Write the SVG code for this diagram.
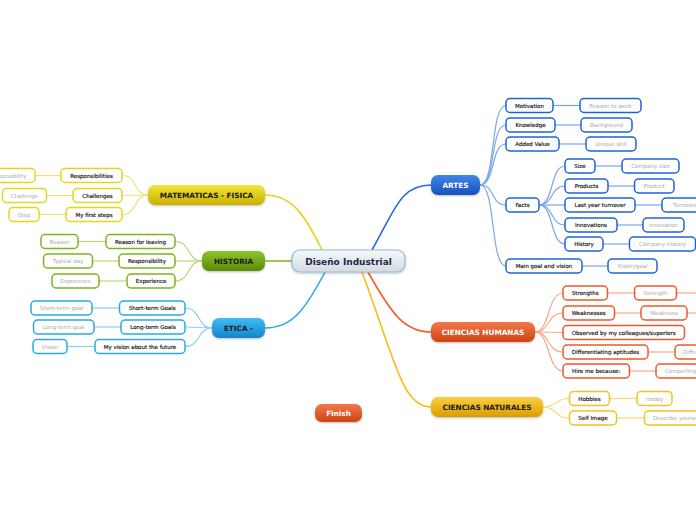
<svg xmlns="http://www.w3.org/2000/svg" width="696" height="520" viewBox="0 0 696 520">
<defs>
<linearGradient id="gc" x1="0" y1="0" x2="0" y2="1"><stop offset="0" stop-color="#f6f8fa"/><stop offset="1" stop-color="#d6dade"/></linearGradient>
<linearGradient id="gb" x1="0" y1="0" x2="0" y2="1"><stop offset="0" stop-color="#4088e8"/><stop offset="1" stop-color="#1850bc"/></linearGradient>
<linearGradient id="gy" x1="0" y1="0" x2="0" y2="1"><stop offset="0" stop-color="#f4e43a"/><stop offset="1" stop-color="#c8b000"/></linearGradient>
<linearGradient id="gg" x1="0" y1="0" x2="0" y2="1"><stop offset="0" stop-color="#90c42c"/><stop offset="1" stop-color="#588c08"/></linearGradient>
<linearGradient id="gk" x1="0" y1="0" x2="0" y2="1"><stop offset="0" stop-color="#40bcf2"/><stop offset="1" stop-color="#1484cc"/></linearGradient>
<linearGradient id="go" x1="0" y1="0" x2="0" y2="1"><stop offset="0" stop-color="#f47848"/><stop offset="1" stop-color="#cc4414"/></linearGradient>
<linearGradient id="ga" x1="0" y1="0" x2="0" y2="1"><stop offset="0" stop-color="#fad040"/><stop offset="1" stop-color="#dc9c00"/></linearGradient>
<filter id="sh" x="-10%" y="-20%" width="120%" height="160%"><feDropShadow dx="0" dy="1" stdDeviation="0.8" flood-color="#000" flood-opacity="0.25"/></filter>
</defs>
<style>
text{font-family:"DejaVu Sans","Liberation Sans",sans-serif;text-anchor:middle}
.ct{font-size:9px;font-weight:bold;fill:#1a2846}
.bt{font-size:7.3px;font-weight:bold}
.w{fill:#ffffff}.d{fill:#1a1a1a}
.c{font-size:5.5px;fill:#222222;stroke:#222222;stroke-width:0.18}
.l{font-size:5.5px;fill:#aaaaaa}
.n{fill:#ffffff;stroke-width:1.5}
.sb{stroke:#1c64d8}.sy{stroke:#e6d41e}.sg{stroke:#7cb41c}.sk{stroke:#28a8e8}.so{stroke:#f0582a}.sa{stroke:#f8c020}
path{fill:none}
.lb{stroke:#7aa6ea}.ly{stroke:#f0e27a}.lg{stroke:#b8d878}.lk{stroke:#88d0f2}.lo{stroke:#f8a888}.la{stroke:#fcd878}
.m{stroke-width:1.6}.s{stroke-width:1.2}
</style>
<g id="connectors">
<path class="m" stroke="#2a6ad8" d="M372 250 C395 210 400 185 431 185"/>
<path class="m" stroke="#e6d21a" d="M322 250 C305 215 292 195 265 195"/>
<path class="m" stroke="#86b82a" d="M292 261 L265 261"/>
<path class="m" stroke="#2aaae8" d="M325 272 C305 310 292 328 265 328"/>
<path class="m" stroke="#f06030" d="M368 272 C392 315 405 332 431 332"/>
<path class="m" stroke="#f8bc18" d="M362 272 C395 360 402 407 431 407"/>
<g class="lb s">
<path d="M480 185 C496 185 490 105.5 506 105.5"/>
<path d="M480 185 C496 185 490 125 506 125"/>
<path d="M480 185 C496 185 490 144 506 144"/>
<path d="M480 185 C496 185 490 205 506 205"/>
<path d="M480 185 C496 185 490 266 506 266"/>
<path d="M539 205 C554 205 550 166 565 166"/>
<path d="M539 205 C554 205 550 186 565 186"/>
<path d="M539 205 L565 205"/>
<path d="M539 205 C554 205 550 225 565 225"/>
<path d="M539 205 C554 205 550 244 565 244"/>
<path d="M553 105.5 L580 105.5"/>
<path d="M555 125 L581 125"/>
<path d="M559 144 L586 144"/>
<path d="M582 266 L608 266"/>
<path d="M595 166 L622 166"/>
<path d="M608 186 L634.5 186"/>
<path d="M635 205 L662 205"/>
<path d="M617 225 L643 225"/>
<path d="M603 244 L629.5 244"/>
</g>
<g class="ly s">
<path d="M148 195 C133 195 138 175.5 122 175.5"/>
<path d="M148 195 L122 195.5"/>
<path d="M148 195 C133 195 138 214.5 122 214.5"/>
<path d="M61 175.5 L35 175.5"/>
<path d="M73 195.5 L46.5 195.5"/>
<path d="M66 214.5 L39 214.5"/>
</g>
<g class="lg s">
<path d="M202 261 C187 261 191 241.5 175 241.5"/>
<path d="M202 261 L175 261"/>
<path d="M202 261 C187 261 191 281 175 281"/>
<path d="M106 241.5 L78 241.5"/>
<path d="M119 261 L92.5 261"/>
<path d="M127 281 L99 281"/>
</g>
<g class="lk s">
<path d="M212 328 C197 328 201 308 185 308"/>
<path d="M212 328 L185 327"/>
<path d="M212 328 C197 328 201 346.5 185 346.5"/>
<path d="M119.5 308 L92 308"/>
<path d="M121 327 L94 327"/>
<path d="M95 346.5 L67 346.5"/>
</g>
<g class="lo s">
<path d="M535 332 C550 332 547 293 563 293"/>
<path d="M535 332 C550 332 547 313 563 313"/>
<path d="M535 332 L563 332.5"/>
<path d="M535 332 C550 332 547 352 563 352"/>
<path d="M535 332 C550 332 547 371 563 371"/>
<path d="M607.5 293 L634.5 293"/>
<path d="M676.5 293 L696 293"/>
<path d="M614.5 313 L641 313"/>
<path d="M687 313 L696 313"/>
<path d="M648 352 L675 352"/>
<path d="M629.5 371 L656 371"/>
</g>
<g class="la s">
<path d="M543 407 C557 407 554 398.5 569.5 398.5"/>
<path d="M543 407 C557 407 554 418 569.5 418"/>
<path d="M609.5 398.5 L637 398.5"/>
<path d="M616.5 418 L644.5 418"/>
</g>
</g>
<g id="center"><rect x="292" y="250" width="113" height="22" rx="8" fill="url(#gc)" stroke="#8cbce4" stroke-width="1.2" filter="url(#sh)"/><text class="ct" x="348.5" y="264.5">Diseño Industrial</text></g>
<g id="artes"><rect x="431" y="175" width="49" height="20" rx="7" fill="url(#gb)" filter="url(#sh)"/><text class="bt w" x="455.5" y="188">ARTES</text></g>
<g id="matematicas"><rect x="148" y="185" width="117" height="20" rx="7" fill="url(#gy)" filter="url(#sh)"/><text class="bt d" x="206.5" y="198">MATEMATICAS - FISICA</text></g>
<g id="historia"><rect x="202" y="251" width="63" height="20" rx="7" fill="url(#gg)" filter="url(#sh)"/><text class="bt d" x="233.5" y="264">HISTORIA</text></g>
<g id="etica"><rect x="212" y="318" width="53" height="20" rx="7" fill="url(#gk)" filter="url(#sh)"/><text class="bt d" x="238.5" y="331">ETICA -</text></g>
<g id="humanas"><rect x="431" y="322" width="104" height="20" rx="7" fill="url(#go)" filter="url(#sh)"/><text class="bt w" x="483" y="335">CIENCIAS HUMANAS</text></g>
<g id="naturales"><rect x="431" y="397" width="112" height="20" rx="7" fill="url(#ga)" filter="url(#sh)"/><text class="bt d" x="487" y="410">CIENCIAS NATURALES</text></g>
<g id="finish"><rect x="315" y="404" width="47" height="18" rx="7" fill="url(#go)" filter="url(#sh)"/><text class="bt w" x="338.5" y="415.8">Finish</text></g>

<g id="responsibilities"><rect class="n sy" x="61" y="168.5" width="61" height="14" rx="4"/><text class="c" x="91.5" y="177.5">Responsibilities</text></g>
<g id="challenges"><rect class="n sy" x="73" y="188.5" width="49" height="14" rx="4"/><text class="c" x="97.5" y="197.5">Challenges</text></g>
<g id="firststeps"><rect class="n sy" x="66" y="207.5" width="56" height="14" rx="4"/><text class="c" x="94" y="216.5">My first steps</text></g>
<g id="responsibility-leaf"><rect class="n sy" x="-20" y="168.5" width="55" height="14" rx="4"/><text class="l" x="7.5" y="177.5">Responsibility</text></g>
<g id="challenge-leaf"><rect class="n sy" x="2.5" y="188.5" width="44" height="14" rx="4"/><text class="l" x="24.5" y="197.5">Challenge</text></g>
<g id="step-leaf"><rect class="n sy" x="9" y="207.5" width="30" height="14" rx="4"/><text class="l" x="24" y="216.5">Step</text></g>

<g id="reasonleaving"><rect class="n sg" x="106" y="234.5" width="69" height="14" rx="4"/><text class="c" x="140.5" y="243.5">Reason for leaving</text></g>
<g id="responsibility"><rect class="n sg" x="119" y="254" width="56" height="14" rx="4"/><text class="c" x="147" y="263">Responsibility</text></g>
<g id="experience"><rect class="n sg" x="127" y="274" width="48" height="14" rx="4"/><text class="c" x="151" y="283">Experience</text></g>
<g id="reason-leaf"><rect class="n sg" x="41" y="234.5" width="37" height="14" rx="4"/><text class="l" x="59.5" y="243.5">Reason</text></g>
<g id="typicalday-leaf"><rect class="n sg" x="43.5" y="254" width="49" height="14" rx="4"/><text class="l" x="68" y="263">Typical day</text></g>
<g id="experience-leaf"><rect class="n sg" x="52" y="274" width="47" height="14" rx="4"/><text class="l" x="75.5" y="283">Experience</text></g>

<g id="shortgoals"><rect class="n sk" x="119.5" y="301" width="65.5" height="14" rx="4"/><text class="c" x="152.2" y="310">Short-term Goals</text></g>
<g id="longgoals"><rect class="n sk" x="121" y="320" width="64" height="14" rx="4"/><text class="c" x="153" y="329">Long-term Goals</text></g>
<g id="vision"><rect class="n sk" x="95" y="339.5" width="90" height="14" rx="4"/><text class="c" x="140" y="348.5">My vision about the future</text></g>
<g id="shortgoal-leaf"><rect class="n sk" x="31" y="301" width="61" height="14" rx="4"/><text class="l" x="61.5" y="310">Short-term goal</text></g>
<g id="longgoal-leaf"><rect class="n sk" x="33.5" y="320" width="60.5" height="14" rx="4"/><text class="l" x="63.7" y="329">Long-term goal</text></g>
<g id="vision-leaf"><rect class="n sk" x="33" y="339.5" width="34" height="14" rx="4"/><text class="l" x="50" y="348.5">Vision</text></g>

<g id="motivation"><rect class="n sb" x="506" y="98.5" width="47" height="14" rx="4"/><text class="c" x="529.5" y="107.5">Motivation</text></g>
<g id="knowledge"><rect class="n sb" x="506" y="118" width="49" height="14" rx="4"/><text class="c" x="530.5" y="127">Knowledge</text></g>
<g id="addedvalue"><rect class="n sb" x="506" y="137" width="53" height="14" rx="4"/><text class="c" x="532.5" y="146">Added Value</text></g>
<g id="facts"><rect class="n sb" x="506" y="198" width="33" height="14" rx="4"/><text class="c" x="522.5" y="207">Facts</text></g>
<g id="maingoal"><rect class="n sb" x="506" y="259" width="76" height="14" rx="4"/><text class="c" x="544" y="268">Main goal and vision</text></g>
<g id="reasonwork-leaf"><rect class="n sb" x="580" y="98.5" width="61" height="14" rx="4"/><text class="l" x="610.5" y="107.5">Reason to work</text></g>
<g id="background-leaf"><rect class="n sb" x="581" y="118" width="51" height="14" rx="4"/><text class="l" x="606.5" y="127">Background</text></g>
<g id="uniqueskill-leaf"><rect class="n sb" x="586" y="137" width="50" height="14" rx="4"/><text class="l" x="611" y="146">Unique skill</text></g>
<g id="visiongoal-leaf"><rect class="n sb" x="608" y="259" width="49" height="14" rx="4"/><text class="l" x="632.5" y="268">Vision/goal</text></g>
<g id="size"><rect class="n sb" x="565" y="159" width="30" height="14" rx="4"/><text class="c" x="580" y="168">Size</text></g>
<g id="products"><rect class="n sb" x="565" y="179" width="43" height="14" rx="4"/><text class="c" x="586.5" y="188">Products</text></g>
<g id="turnover"><rect class="n sb" x="565" y="198" width="70" height="14" rx="4"/><text class="c" x="600" y="207">Last year turnover</text></g>
<g id="innovations"><rect class="n sb" x="565" y="218" width="52" height="14" rx="4"/><text class="c" x="591" y="227">Innovations</text></g>
<g id="history"><rect class="n sb" x="565" y="237" width="38" height="14" rx="4"/><text class="c" x="584" y="246">History</text></g>
<g id="companysize-leaf"><rect class="n sb" x="622" y="159" width="57" height="14" rx="4"/><text class="l" x="650.5" y="168">Company size</text></g>
<g id="product-leaf"><rect class="n sb" x="634.5" y="179" width="39.5" height="14" rx="4"/><text class="l" x="654.2" y="188">Product</text></g>
<g id="turnover-leaf"><rect class="n sb" x="662" y="198" width="46" height="14" rx="4"/><text class="l" x="685" y="207">Turnover</text></g>
<g id="innovation-leaf"><rect class="n sb" x="643" y="218" width="41" height="14" rx="4"/><text class="l" x="663.5" y="227">Innovation</text></g>
<g id="companyhistory-leaf"><rect class="n sb" x="629.5" y="237" width="66" height="14" rx="4"/><text class="l" x="662.5" y="246">Company history</text></g>

<g id="strengths"><rect class="n so" x="563" y="286" width="44.5" height="14" rx="4"/><text class="c" x="585.2" y="295">Strengths</text></g>
<g id="weaknesses"><rect class="n so" x="563" y="306" width="51.5" height="14" rx="4"/><text class="c" x="588.7" y="315">Weaknesses</text></g>
<g id="observed"><rect class="n so" x="563" y="325.5" width="121.5" height="14" rx="4"/><text class="c" x="623.7" y="334.5">Observed by my colleagues/superiors</text></g>
<g id="differentiating"><rect class="n so" x="563" y="345" width="85" height="14" rx="4"/><text class="c" x="605.5" y="354">Differentiating aptitudes</text></g>
<g id="hireme"><rect class="n so" x="563" y="364" width="66.5" height="14" rx="4"/><text class="c" x="596.2" y="373">Hire me because:</text></g>
<g id="strength-leaf"><rect class="n so" x="634.5" y="286" width="42" height="14" rx="4"/><text class="l" x="655.5" y="295">Strength</text></g>
<g id="weakness-leaf"><rect class="n so" x="641" y="306" width="46" height="14" rx="4"/><text class="l" x="664" y="315">Weakness</text></g>
<g id="differ-leaf"><rect class="n so" x="675" y="345" width="80" height="14" rx="4"/><text class="l" x="683" y="354" style="text-anchor:start">Differentiating</text></g>
<g id="compelling-leaf"><rect class="n so" x="656" y="364" width="90" height="14" rx="4"/><text class="l" x="665" y="373" style="text-anchor:start">Compelling reason</text></g>

<g id="hobbies"><rect class="n sa" x="569.5" y="391.5" width="40" height="14" rx="4"/><text class="c" x="589.5" y="400.5">Hobbies</text></g>
<g id="selfimage"><rect class="n sa" x="569.5" y="411" width="47" height="14" rx="4"/><text class="c" x="593" y="420">Self Image</text></g>
<g id="hobby-leaf"><rect class="n sa" x="637" y="391.5" width="35" height="14" rx="4"/><text class="l" x="654.5" y="400.5">Hobby</text></g>
<g id="describe-leaf"><rect class="n sa" x="644.5" y="411" width="80" height="14" rx="4"/><text class="l" x="653" y="420" style="text-anchor:start">Describe yourself</text></g>
</svg>
